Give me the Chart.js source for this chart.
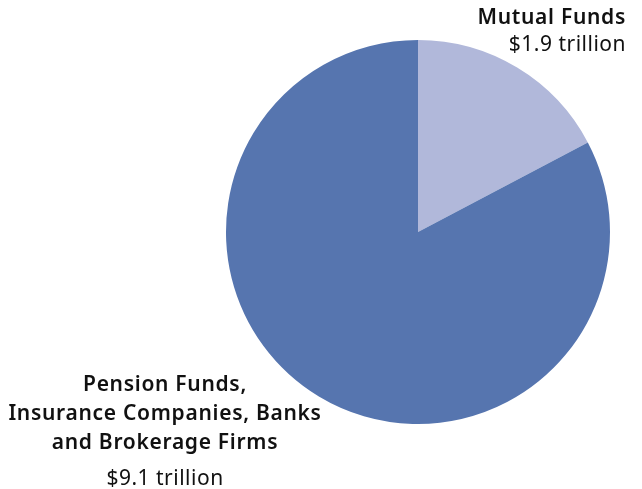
<!DOCTYPE html>
<html>
<head>
<meta charset="utf-8">
<script src="https://cdn.jsdelivr.net/npm/chart.js@4/dist/chart.umd.min.js"></script>
<style>
  html, body { margin: 0; padding: 0; background: #fff; }
  #wrap { position: relative; width: 642px; height: 489px; }
</style>
</head>
<body>
<div id="wrap"><canvas id="chart"></canvas></div>
<script>
const categories = ['Mutual Funds', 'Pension Funds, Insurance Companies, Banks and Brokerage Firms'];
const values = [1.9, 9.1]; // trillions of dollars
const valueLabels = ['$1.9 trillion', '$9.1 trillion'];
const titleLines = [['Mutual Funds'], ['Pension Funds,', 'Insurance Companies, Banks', 'and Brokerage Firms']];
const sliceColors = ['#b1b8da', '#5675af'];

// draws the outside labels, one block per slice
const sliceLabels = {
  id: 'sliceLabels',
  afterDraw(chart) {
    const { ctx } = chart;
    const blocks = [
      { x: 626, y: 18, align: 'right', gap: 27, extra: 0 },
      { x: 165, y: 385, align: 'center', gap: 29, extra: 7 },
    ];
    ctx.save();
    ctx.fillStyle = '#111';
    ctx.textBaseline = 'middle';
    blocks.forEach((b, i) => {
      ctx.textAlign = b.align;
      let y = b.y;
      ctx.font = '600 21px "Noto Sans", sans-serif';
      ctx.letterSpacing = '0.7px';
      titleLines[i].forEach((line) => {
        ctx.fillText(line, b.x, y);
        y += b.gap;
      });
      ctx.font = '400 21px "Noto Sans", sans-serif';
      ctx.letterSpacing = '0.5px';
      ctx.fillText(valueLabels[i], b.x, y + b.extra);
    });
    ctx.restore();
  },
};

const chart = new Chart(document.getElementById('chart'), {
  type: 'pie',
  data: {
    labels: categories,
    datasets: [{
      data: values,
      backgroundColor: sliceColors,
      borderWidth: 0,
    }],
  },
  options: {
    responsive: true,
    maintainAspectRatio: false,
    animation: false,
    layout: { padding: { top: 40, bottom: 65, left: 226, right: 32 } },
    plugins: {
      legend: { display: false },
      tooltip: { enabled: false },
    },
  },
  plugins: [sliceLabels],
});
</script>
</body>
</html>
